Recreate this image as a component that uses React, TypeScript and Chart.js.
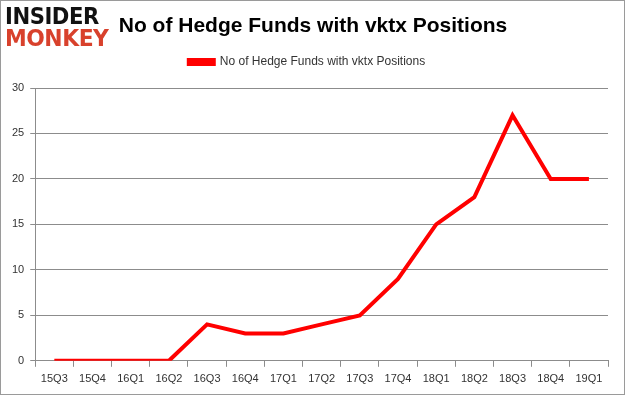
import React, { useEffect, useRef } from "react";
import { Chart, registerables } from "chart.js";

Chart.register(...registerables);

const categories = ["15Q3", "15Q4", "16Q1", "16Q2", "16Q3", "16Q4", "17Q1", "17Q2", "17Q3", "17Q4", "18Q1", "18Q2", "18Q3", "18Q4", "19Q1"];
const hedgeFunds = [0, 0, 0, 0, 4, 3, 3, 4, 5, 9, 15, 18, 27, 20, 20];
const seriesLabel = "No of Hedge Funds with vktx Positions";
const titleText = "No of Hedge Funds with vktx Positions";
const yTicks = [0, 5, 10, 15, 20, 25, 30];

const legendSpacer = {
  id: "legendSpacer",
  beforeInit(chart: any) {
    const legend = chart.legend;
    if (!legend) return;
    const origFit = legend.fit;
    legend.fit = function () {
      origFit.bind(legend)();
      this.height += 10;
    };
  },
};

export default function App() {
  const ref = useRef<HTMLCanvasElement | null>(null);
  useEffect(() => {
    if (!ref.current) return;
    const font = { family: "'Liberation Sans', Arial, sans-serif", size: 11 };
    const chart = new Chart(ref.current, {
      type: "line",
      data: {
        labels: categories,
        datasets: [
          {
            label: seriesLabel,
            data: hedgeFunds,
            borderColor: "#ff0000",
            backgroundColor: "#ff0000",
            borderWidth: 4,
            pointRadius: 0,
            tension: 0,
          },
        ],
      },
      plugins: [legendSpacer],
      options: {
        animation: false,
        responsive: true,
        maintainAspectRatio: false,
        layout: { padding: { top: 43, right: 16, bottom: 2, left: 5 } },
        plugins: {
          legend: {
            position: "top",
            labels: {
              boxWidth: 25,
              boxHeight: 4,
              padding: 12,
              color: "#333",
              font: { family: "'Liberation Sans', Arial, sans-serif", size: 12 },
            },
          },
          title: { display: false },
          tooltip: { enabled: false },
        },
        scales: {
          x: {
            offset: true,
            grid: {
              offset: true,
              drawOnChartArea: false,
              drawTicks: true,
              tickLength: 6,
              color: "#8c8c8c",
            },
            border: { color: "#8c8c8c" },
            ticks: { color: "#333", font, padding: 6, maxRotation: 0 },
          },
          y: {
            min: 0,
            max: 30,
            afterBuildTicks: (axis: any) => {
              axis.ticks = yTicks.map((v) => ({ value: v }));
            },
            grid: { color: "#8c8c8c", tickLength: 5, drawTicks: true },
            border: { color: "#8c8c8c" },
            ticks: { color: "#333", font, padding: 6 },
          },
        },
      },
    });
    return () => chart.destroy();
  }, []);

  return (
    <div
      style={{
        position: "absolute",
        left: 0,
        top: 0,
        width: 625,
        height: 395,
        background: "#fff",
        boxSizing: "border-box",
        border: "1px solid #9a9a9a",
        overflow: "hidden",
      }}
    >
      <canvas ref={ref} />
      <div
        style={{
          position: "absolute",
          left: 4,
          top: 4,
          fontFamily: "'DejaVu Sans', sans-serif",
          fontWeight: 900,
          lineHeight: "22px",
          fontSize: 23,
          letterSpacing: -0.5,
        }}
      >
        <div style={{ color: "#111", transform: "scaleX(0.92)", transformOrigin: "left" }}>INSIDER</div>
        <div style={{ color: "#d8412c", transform: "scaleX(0.95)", transformOrigin: "left" }}>MONKEY</div>
      </div>
      <div
        style={{
          position: "absolute",
          left: 112,
          width: 400,
          top: 12,
          textAlign: "center",
          fontFamily: "'Liberation Sans', Arial, sans-serif",
          fontWeight: "bold",
          fontSize: 21,
          color: "#000",
          whiteSpace: "nowrap",
        }}
      >
        {titleText}
      </div>
    </div>
  );
}
